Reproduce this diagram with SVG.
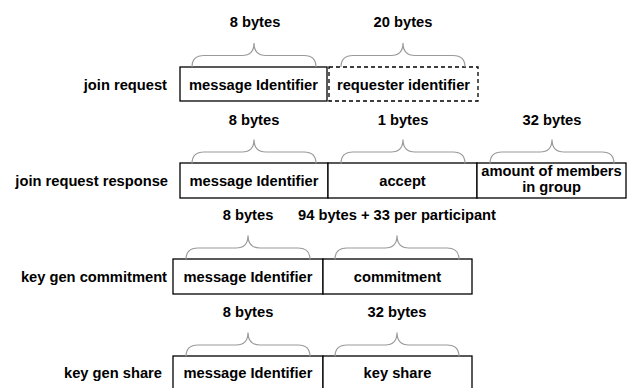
<svg xmlns="http://www.w3.org/2000/svg" xmlns:xlink="http://www.w3.org/1999/xlink" width="632" height="388" viewBox="0 0 632 388">
  <style>
    text { font-family: "Liberation Sans", Arial, sans-serif; font-size: 14.7px; font-weight: bold; fill: #000; }
    .mid { text-anchor: middle; }
    .end { text-anchor: end; }
    .field { fill: #fff; stroke: #000; stroke-width: 1.3; }
    .dashed { stroke-dasharray: 4 3; }
    .brace { fill: none; stroke: #9a9a9a; stroke-width: 1.2; }
  </style>
  <defs>
    <!-- horizontal curly brace, peak at the origin, 124 wide -->
    <path id="brace" class="brace" d="M -62 24 Q -62 12.5 -50 12.5 H -12 Q 0 12.5 0 0 Q 0 12.5 12 12.5 H 50 Q 62 12.5 62 24"/>
  </defs>

  <rect width="632" height="388" fill="#fff"/>

  <!-- join request -->
  <g id="join-request">
    <text class="end" x="167" y="90">join request</text>
    <g id="jr-msgid">
      <rect class="field" x="180" y="67" width="147" height="34"/>
      <text class="mid" x="253.5" y="90">message Identifier</text>
    </g>
    <g id="jr-requester">
      <rect class="field dashed" x="329" y="67" width="149" height="34"/>
      <text class="mid" x="403.5" y="90">requester identifier</text>
    </g>
    <text class="mid" x="255" y="27">8 bytes</text>
    <text class="mid" x="403" y="27">20 bytes</text>
  </g>

  <!-- join request response -->
  <g id="join-request-response">
    <text class="end" x="168" y="186">join request response</text>
    <g id="jrr-msgid">
      <rect class="field" x="180" y="163" width="148" height="35"/>
      <text class="mid" x="254" y="186">message Identifier</text>
    </g>
    <g id="jrr-accept">
      <rect class="field" x="328" y="163" width="149" height="35"/>
      <text class="mid" x="402.5" y="186">accept</text>
    </g>
    <g id="jrr-members">
      <rect class="field" x="477" y="163" width="149" height="35"/>
      <text class="mid" x="551.5" y="176">amount of members</text>
      <text class="mid" x="551.5" y="192">in group</text>
    </g>
    <text class="mid" x="254" y="125">8 bytes</text>
    <text class="mid" x="403" y="125">1 bytes</text>
    <text class="mid" x="552" y="125">32 bytes</text>
  </g>

  <!-- key gen commitment -->
  <g id="key-gen-commitment">
    <text class="end" x="167" y="282">key gen commitment</text>
    <g id="kgc-msgid">
      <rect class="field" x="173" y="259" width="150" height="35"/>
      <text class="mid" x="248" y="282">message Identifier</text>
    </g>
    <g id="kgc-commitment">
      <rect class="field" x="323" y="259" width="149" height="35"/>
      <text class="mid" x="397.5" y="282">commitment</text>
    </g>
    <text class="mid" x="248" y="220">8 bytes</text>
    <text class="mid" x="397" y="220">94 bytes + 33 per participant</text>
  </g>

  <!-- key gen share -->
  <g id="key-gen-share">
    <text class="end" x="162" y="378">key gen share</text>
    <g id="kgs-msgid">
      <rect class="field" x="173" y="356" width="150" height="35"/>
      <text class="mid" x="248" y="378">message Identifier</text>
    </g>
    <g id="kgs-share">
      <rect class="field" x="323" y="356" width="149" height="35"/>
      <text class="mid" x="397.5" y="378">key share</text>
    </g>
    <text class="mid" x="248" y="317">8 bytes</text>
    <text class="mid" x="397" y="317">32 bytes</text>
  </g>

  <!-- size braces above each field -->
  <g id="braces">
    <use xlink:href="#brace" transform="translate(254,43)"/>
    <use xlink:href="#brace" transform="translate(403,43)"/>
    <use xlink:href="#brace" transform="translate(254,139.5)"/>
    <use xlink:href="#brace" transform="translate(403,139.5)"/>
    <use xlink:href="#brace" transform="translate(552,139.5)"/>
    <use xlink:href="#brace" transform="translate(248,235.5)"/>
    <use xlink:href="#brace" transform="translate(397,235.5)"/>
    <use xlink:href="#brace" transform="translate(248,332.5)"/>
    <use xlink:href="#brace" transform="translate(397,332.5)"/>
  </g>
</svg>
